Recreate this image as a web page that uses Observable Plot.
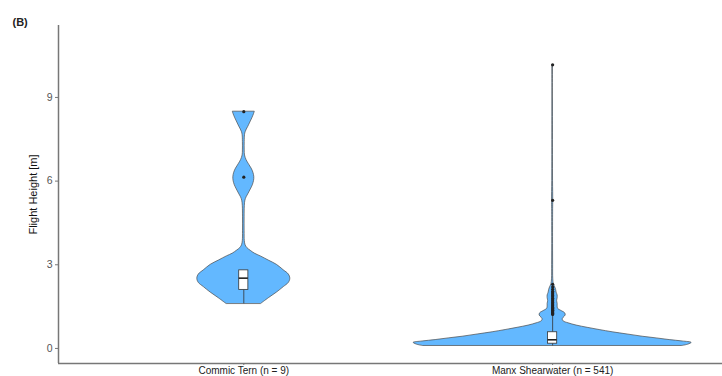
<!DOCTYPE html>
<html>
<head>
<meta charset="utf-8">
<script src="https://cdn.jsdelivr.net/npm/d3@7"></script>
<script src="https://cdn.jsdelivr.net/npm/@observablehq/plot@0.6"></script>
<style>
  html, body { margin: 0; padding: 0; background: #fff; }
  #chart svg { display: block; }
</style>
</head>
<body>
<div id="chart"></div>
<script>
// ---- data ----
const species = ["Commic Tern (n = 9)", "Manx Shearwater (n = 541)"];
const yTicks = [0, 3, 6, 9];

// violin profiles: height (m) and relative density (half-width)
const ternHeight  = [1.60, 1.80, 2.00, 2.20, 2.35, 2.50, 2.65, 2.80, 3.00, 3.15, 3.30, 3.40, 3.50, 3.60, 3.70, 3.85, 4.20, 4.70, 5.10, 5.30, 5.42, 5.55, 5.70, 5.85, 6.00, 6.14, 6.30, 6.45, 6.60, 6.75, 6.92, 7.10, 7.40, 7.65, 7.75, 7.85, 7.95, 8.10, 8.25, 8.40, 8.49];
const ternDensity = [17.5, 25, 33, 40, 45, 46.5, 45, 40, 33, 25, 17, 11, 7, 3.5, 1.8, 1.0, 0.8, 0.8, 1.0, 1.6, 2.8, 4.8, 7, 9, 10.2, 10.5, 9.6, 7.8, 5.2, 2.8, 1.2, 0.9, 0.9, 1.2, 1.8, 3.0, 4.5, 6.5, 8.5, 10.2, 11];

const manxHeight  = [0.09, 0.14, 0.20, 0.25, 0.30, 0.36, 0.42, 0.50, 0.58, 0.66, 0.74, 0.82, 0.90, 0.97, 1.04, 1.10, 1.18, 1.26, 1.34, 1.42, 1.50, 1.60, 1.70, 1.80, 1.90, 2.00, 2.10, 2.20, 2.30, 2.50, 3.00, 4.00, 5.00, 5.30, 6.00, 8.00, 10.17];
const manxDensity = [130, 136, 139, 130, 117, 104, 90, 75, 60, 47, 35, 24, 16, 11, 10, 11, 13, 12.5, 9, 5.5, 5, 5, 4.5, 5, 5, 4, 3.5, 2.5, 1.2, 0.6, 0.5, 0.4, 0.5, 0.6, 0.4, 0.3, 0.3];

// box plot statistics: [lower whisker, Q1, median, Q3, upper whisker]
const ternBox = [1.60, 2.10, 2.52, 2.80, 2.80];
const manxBox = [0.09, 0.17, 0.31, 0.58, 1.20];

// outliers
const ternOutliers = [6.14, 8.49];
const manxOutliers = [1.22, 1.25, 1.28, 1.31, 1.34, 1.37, 1.40, 1.44, 1.48, 1.52, 1.56, 1.60, 1.65, 1.70, 1.75, 1.80, 1.85, 1.90, 1.95, 2.00, 2.05, 2.12, 2.20, 2.30, 5.31, 10.17];

// ---- build tables ----
const densityToX = 1 / 308.8;   // half-width in x units per density unit
const boxHalf = 0.0148;

const violins = [
  ...ternHeight.map((h, i) => ({pos: 1, h, w: ternDensity[i] * densityToX})),
  ...manxHeight.map((h, i) => ({pos: 2, h, w: manxDensity[i] * densityToX}))
];
const boxes = [ternBox, manxBox].map((b, i) => ({pos: i + 1, lo: b[0], q1: b[1], med: b[2], q3: b[3], hi: b[4]}));
const outliers = [
  ...ternOutliers.map(v => ({pos: 1, v})),
  ...manxOutliers.map(v => ({pos: 2, v}))
];

const yDomain = [-0.54, 11.58];
const xDomain = [0.4, 2.55];

const fill = "#63b8ff";
const outline = "#4a4a4a";

const chart = Plot.plot({
  width: 722,
  height: 376,
  marginLeft: 58,
  marginRight: 0,
  marginTop: 25,
  marginBottom: 13,
  style: {fontFamily: "'Liberation Sans', Arial, sans-serif", fontSize: "10px", background: "#fff"},
  x: {domain: xDomain, axis: null, label: null},
  y: {domain: yDomain, axis: null, label: null},
  marks: [
    // violins
    Plot.areaX(violins.filter(d => d.pos === 1), {
      y: "h", x1: d => d.pos - d.w, x2: d => d.pos + d.w,
      curve: "catmull-rom", fill, stroke: outline, strokeWidth: 0.7
    }),
    Plot.areaX(violins.filter(d => d.pos === 2), {
      y: "h", x1: d => d.pos - d.w, x2: d => d.pos + d.w,
      curve: "catmull-rom", fill, stroke: outline, strokeWidth: 0.7
    }),
    // whiskers
    Plot.ruleX(boxes, {x: "pos", y1: "lo", y2: "q1", stroke: "#333", strokeWidth: 0.8}),
    Plot.ruleX(boxes, {x: "pos", y1: "q3", y2: "hi", stroke: "#333", strokeWidth: 0.8}),
    // boxes
    Plot.rect(boxes, {
      x1: d => d.pos - boxHalf, x2: d => d.pos + boxHalf, y1: "q1", y2: "q3",
      fill: "white", stroke: "#333", strokeWidth: 0.8
    }),
    Plot.ruleY(boxes, {y: "med", x1: d => d.pos - boxHalf, x2: d => d.pos + boxHalf, stroke: "#222", strokeWidth: 1.6}),
    // outliers
    Plot.dot(outliers, {x: "pos", y: "v", r: 1.6, fill: "#222", stroke: "none"}),
    // axis lines
    Plot.ruleX([xDomain[0]], {stroke: "#777", strokeWidth: 1.5}),
    Plot.ruleY([yDomain[0]], {stroke: "#777", strokeWidth: 1.5}),
    // axes
    Plot.axisY(yTicks, {tickSize: 3, tickPadding: 3, fill: "#555", stroke: "#777", fontSize: 10.5, label: null}),
    Plot.axisX([1, 2], {tickSize: 2, tickPadding: 1, tickFormat: d => species[d - 1], fill: "#222", stroke: "#777", fontSize: 10, label: null}),
    // axis title
    Plot.text(["Flight Height [m]"], {frameAnchor: "left", dx: -25, rotate: -90, textAnchor: "middle", fill: "#111", fontSize: 11}),
    // tag
    Plot.text(["(B)"], {frameAnchor: "top-left", dx: -46, dy: -7, fill: "#222", fontSize: 11, fontWeight: 600, textAnchor: "start"})
  ]
});

document.getElementById("chart").appendChild(chart);
</script>
</body>
</html>
